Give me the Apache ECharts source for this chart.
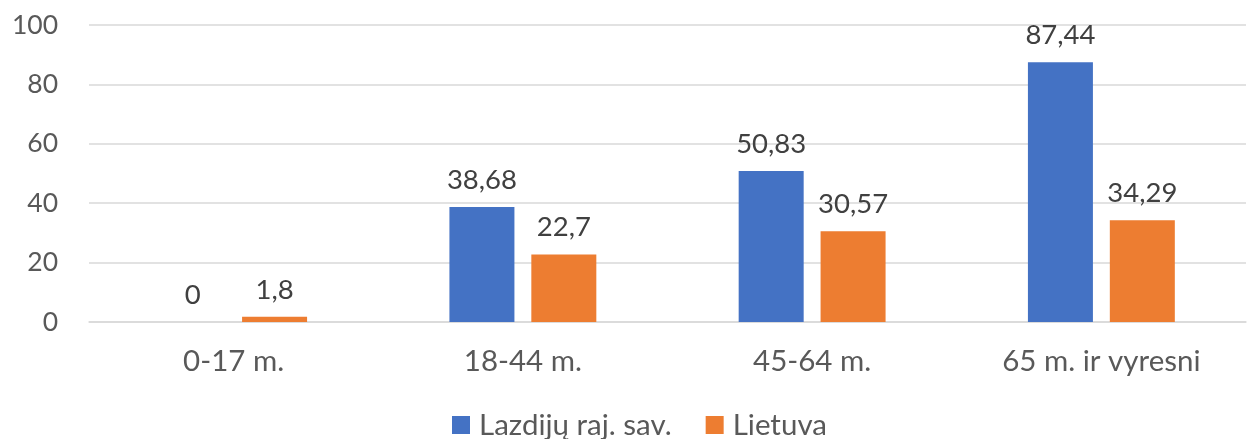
<!DOCTYPE html>
<html><head><meta charset="utf-8">
<script src="https://cdn.jsdelivr.net/npm/echarts@6/dist/echarts.min.js"></script>
<style>html,body{margin:0;padding:0;background:#fff}#c{width:1253px;height:439px}</style>
</head><body><div id="c"></div>
<script>
const categories = ['0-17 m.', '18-44 m.', '45-64 m.', '65 m. ir vyresni'];
const lazdijai = [0, 38.68, 50.83, 87.44];
const lietuva = [1.8, 22.7, 30.57, 34.29];
const seriesNames = ['Lazdijų raj. sav.', 'Lietuva'];
const FONT = 'Lato';
const chart = echarts.init(document.getElementById('c'));
const lbl = {
  show: true, position: 'top', distance: 13,
  color: '#404040', fontFamily: FONT, fontSize: 27.5,
  formatter: p => String(p.value).replace('.', ',')
};
chart.setOption({
  animation: false,
  grid: {left: 89, right: 7, top: 25, bottom: 117, containLabel: false},
  legend: {
    top: 405, left: 447, itemWidth: 18, itemHeight: 18, itemGap: 34,
    icon: 'rect',
    textStyle: {color: '#595959', fontFamily: FONT, fontSize: 29.5, padding: [0,0,0,4]},
    data: seriesNames
  },
  xAxis: {
    type: 'category', data: categories,
    axisLine: {lineStyle: {color: '#d9d9d9', width: 1.5}},
    axisTick: {show: false},
    axisLabel: {color: '#595959', fontFamily: FONT, fontSize: 29.5, margin: 24}
  },
  yAxis: {
    type: 'value', min: 0, max: 100, interval: 20,
    axisLine: {show: false}, axisTick: {show: false},
    splitLine: {lineStyle: {color: '#d9d9d9', width: 1.5}},
    axisLabel: {color: '#595959', fontFamily: FONT, fontSize: 26.5, margin: 31}
  },
  series: [
    {name: seriesNames[0], type: 'bar', data: lazdijai, barWidth: 65, barGap: '26%',
     itemStyle: {color: '#4472C4'}, label: lbl},
    {name: seriesNames[1], type: 'bar', data: lietuva, barWidth: 65,
     itemStyle: {color: '#ED7D31'}, label: lbl}
  ]
});
</script></body></html>
